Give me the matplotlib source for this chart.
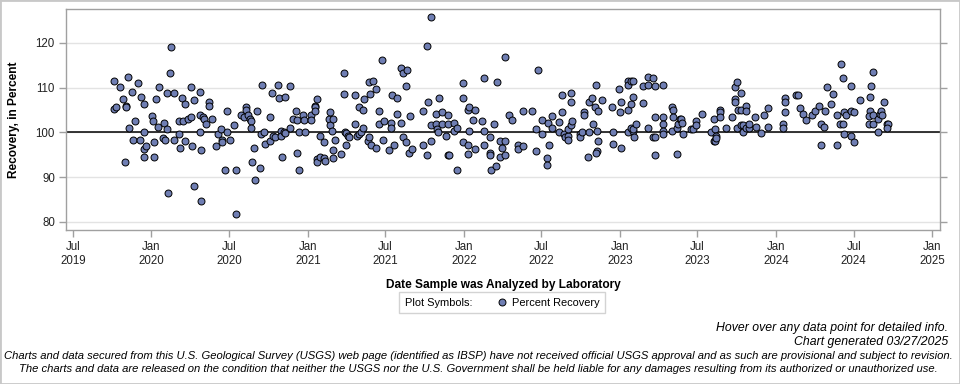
import pandas as pd
import matplotlib
matplotlib.use('Agg')
import matplotlib.pyplot as plt
import matplotlib.dates as mdates
from matplotlib.patches import Rectangle
from matplotlib.lines import Line2D
from matplotlib.offsetbox import HPacker

plt.rcParams['font.family'] = ['Liberation Sans', 'DejaVu Sans']

# sample dates as decimal years, recovery in percent
d2019 = [2019.758, 2019.762, 2019.773, 2019.796, 2019.816, 2019.828, 2019.835, 2019.835,
         2019.852, 2019.854, 2019.873, 2019.884, 2019.892, 2019.912, 2019.924, 2019.931,
         2019.950, 2019.950, 2019.950, 2019.950, 2019.965]
r2019 = [105.3, 111.4, 105.7, 110.1, 107.4, 93.3, 106.0, 105.6,
         112.3, 101.1, 109.0, 98.3, 102.5, 111.0, 98.4, 108.0,
         106.3, 100.0, 96.2, 94.6, 96.9]

d2020 = [2020.001, 2020.008, 2020.019, 2020.019, 2020.027, 2020.040, 2020.046, 2020.076,
         2020.078, 2020.085, 2020.097, 2020.097, 2020.104, 2020.117, 2020.123, 2020.142,
         2020.142, 2020.174, 2020.174, 2020.181, 2020.193, 2020.200, 2020.213, 2020.213,
         2020.232, 2020.251, 2020.251, 2020.257, 2020.270, 2020.270, 2020.309, 2020.309,
         2020.309, 2020.315, 2020.315, 2020.328, 2020.334, 2020.347, 2020.366, 2020.366,
         2020.385, 2020.411, 2020.424, 2020.443, 2020.449, 2020.449, 2020.469, 2020.481,
         2020.481, 2020.501, 2020.526, 2020.539, 2020.539, 2020.576, 2020.595, 2020.608,
         2020.608, 2020.620, 2020.633, 2020.635, 2020.635, 2020.641, 2020.654, 2020.661,
         2020.673, 2020.693, 2020.699, 2020.705, 2020.718, 2020.725, 2020.757, 2020.757,
         2020.770, 2020.776, 2020.789, 2020.808, 2020.814, 2020.827, 2020.827, 2020.833,
         2020.846, 2020.853, 2020.853, 2020.885, 2020.885, 2020.904, 2020.923, 2020.932,
         2020.932, 2020.942, 2020.942, 2020.968, 2020.979, 2020.981]
r2020 = [103.7, 102.5, 97.8, 94.6, 107.4, 101.3, 110.1, 98.7,
         102.2, 98.3, 108.8, 100.7, 86.4, 113.2, 119.2, 108.8,
         98.3, 102.5, 99.6, 96.6, 107.8, 102.5, 106.3, 98.0,
         103.1, 110.1, 103.4, 96.9, 107.2, 88.0, 109.0, 103.8,
         100.0, 96.0, 84.6, 103.4, 102.9, 102.0, 106.9, 106.0,
         103.1, 96.9, 99.6, 100.7, 98.4, 97.8, 91.5, 104.7,
         100.2, 98.3, 101.6, 91.5, 81.7, 104.0, 103.4, 105.6,
         105.1, 104.0, 102.9, 102.5, 100.9, 93.5, 96.5, 89.3,
         104.7, 92.0, 99.6, 110.7, 100.0, 97.5, 103.4, 98.0,
         108.9, 99.3, 98.9, 110.5, 107.8, 100.4, 99.1, 94.6,
         100.2, 99.8, 108.0, 110.3, 100.9, 103.1, 104.9, 95.3,
         102.7, 100.2, 91.7, 103.8, 102.7, 100.0]

d2021 = [2021.019, 2021.019, 2021.045, 2021.045, 2021.045, 2021.058, 2021.058, 2021.058,
         2021.077, 2021.077, 2021.102, 2021.102, 2021.109, 2021.134, 2021.141, 2021.141,
         2021.152, 2021.160, 2021.160, 2021.160, 2021.173, 2021.211, 2021.231, 2021.231,
         2021.237, 2021.243, 2021.243, 2021.256, 2021.262, 2021.301, 2021.301, 2021.314,
         2021.327, 2021.327, 2021.339, 2021.352, 2021.352, 2021.359, 2021.384, 2021.390,
         2021.390, 2021.397, 2021.403, 2021.416, 2021.435, 2021.435, 2021.455, 2021.455,
         2021.474, 2021.480, 2021.487, 2021.519, 2021.531, 2021.531, 2021.538, 2021.551,
         2021.570, 2021.570, 2021.595, 2021.595, 2021.608, 2021.634, 2021.608, 2021.627,
         2021.627, 2021.647, 2021.653, 2021.666, 2021.736, 2021.736, 2021.762, 2021.768,
         2021.762, 2021.787, 2021.787, 2021.787, 2021.819, 2021.819, 2021.826, 2021.832,
         2021.839, 2021.858, 2021.858, 2021.883, 2021.896, 2021.896, 2021.896, 2021.903,
         2021.935, 2021.935, 2021.954, 2021.954, 2021.992, 2021.992, 2021.992]
r2021 = [104.0, 102.7, 106.0, 105.6, 104.9, 107.4, 94.0, 93.3,
         99.1, 94.6, 97.8, 94.2, 93.7, 103.1, 104.5, 101.6,
         100.4, 103.0, 96.0, 94.4, 98.4, 95.1, 113.4, 108.7,
         100.2, 99.8, 97.1, 99.1, 98.9, 108.3, 102.0, 99.3,
         99.6, 105.6, 100.0, 105.1, 101.1, 107.4, 98.0, 98.9,
         111.2, 108.7, 97.1, 111.4, 109.8, 96.6, 104.7, 101.8,
         116.1, 98.4, 102.5, 96.0, 102.2, 101.1, 108.3, 97.1,
         107.8, 104.2, 102.2, 114.3, 113.4, 113.9, 98.9, 110.3,
         97.8, 95.3, 103.6, 96.2, 104.9, 97.3, 119.4, 106.7,
         94.9, 125.7, 101.6, 98.0, 104.2, 102.0, 100.7, 100.2,
         107.6, 104.5, 101.8, 99.3, 103.8, 102.0, 94.9, 94.9,
         102.2, 100.4, 101.1, 91.5, 111.0, 107.8, 97.8]

d2022 = [2022.024, 2022.031, 2022.024, 2022.024, 2022.031, 2022.056, 2022.069, 2022.069,
         2022.114, 2022.127, 2022.127, 2022.127, 2022.165, 2022.165, 2022.165, 2022.172,
         2022.191, 2022.204, 2022.210, 2022.229, 2022.242, 2022.229, 2022.261, 2022.261,
         2022.261, 2022.287, 2022.306, 2022.344, 2022.344, 2022.376, 2022.376, 2022.434,
         2022.460, 2022.460, 2022.472, 2022.498, 2022.498, 2022.530, 2022.530, 2022.536,
         2022.543, 2022.562, 2022.562, 2022.607, 2022.607, 2022.626, 2022.626, 2022.639,
         2022.645, 2022.665, 2022.665, 2022.665, 2022.684, 2022.684, 2022.684, 2022.690,
         2022.741, 2022.741, 2022.754, 2022.767, 2022.767, 2022.793, 2022.799, 2022.799,
         2022.818, 2022.825, 2022.837, 2022.844, 2022.850, 2022.850, 2022.844, 2022.857,
         2022.857, 2022.882, 2022.946, 2022.953, 2022.953, 2022.991, 2022.997]
r2022 = [105.1, 105.6, 97.3, 95.1, 100.4, 102.7, 105.1, 96.2,
         102.5, 112.1, 100.4, 97.3, 98.9, 95.3, 94.9, 91.5,
         101.8, 92.6, 111.2, 98.0, 96.6, 94.6, 116.8, 98.2,
         94.9, 104.0, 102.7, 97.1, 96.2, 96.9, 104.7, 104.7,
         100.7, 95.8, 113.9, 102.7, 99.6, 94.4, 92.8, 102.2,
         97.1, 103.6, 101.1, 102.4, 100.2, 108.3, 104.5, 99.6,
         98.9, 99.1, 98.4, 100.7, 101.6, 108.9, 106.7, 102.5,
         99.6, 98.9, 100.0, 104.5, 103.8, 94.6, 106.7, 100.0,
         107.8, 102.0, 105.6, 110.7, 100.4, 95.8, 95.3, 104.7,
         98.0, 107.2, 105.8, 100.0, 97.5, 109.8, 104.5]

d2023 = [2023.010, 2023.010, 2023.055, 2023.055, 2023.068, 2023.081, 2023.055, 2023.068,
         2023.055, 2023.068, 2023.081, 2023.087, 2023.087, 2023.093, 2023.106, 2023.151,
         2023.183, 2023.183, 2023.215, 2023.222, 2023.273, 2023.151, 2023.183, 2023.222,
         2023.215, 2023.228, 2023.222, 2023.273, 2023.273, 2023.273, 2023.279, 2023.337,
         2023.343, 2023.337, 2023.343, 2023.369, 2023.369, 2023.375, 2023.388, 2023.394,
         2023.401, 2023.407, 2023.458, 2023.471, 2023.490, 2023.490, 2023.529, 2023.586,
         2023.606, 2023.612, 2023.606, 2023.612, 2023.618, 2023.618, 2023.644, 2023.644,
         2023.644, 2023.682, 2023.721, 2023.740, 2023.753, 2023.740, 2023.740, 2023.753,
         2023.759, 2023.778, 2023.778, 2023.778, 2023.791, 2023.791, 2023.810, 2023.810,
         2023.810, 2023.830, 2023.830, 2023.868, 2023.874, 2023.906, 2023.926, 2023.951,
         2023.951]
r2023 = [96.6, 106.9, 111.6, 110.5, 111.4, 111.6, 105.1, 106.3,
         100.0, 100.9, 100.4, 100.7, 108.0, 98.9, 101.8, 110.3,
         112.3, 110.5, 112.1, 110.3, 110.5, 106.5, 101.1, 103.4,
         98.9, 98.9, 94.9, 103.4, 101.8, 100.4, 99.6, 105.8,
         105.1, 100.4, 103.4, 95.1, 101.1, 102.0, 103.1, 103.1,
         102.2, 99.6, 100.7, 100.7, 102.5, 101.6, 104.2, 100.0,
         103.1, 100.7, 98.0, 98.2, 99.1, 98.7, 105.1, 104.5,
         103.4, 100.9, 103.4, 110.1, 111.2, 107.4, 106.7, 101.1,
         105.1, 108.9, 105.1, 101.6, 101.6, 100.0, 101.1, 106.0,
         104.7, 100.9, 101.8, 103.4, 101.3, 99.8, 103.8, 105.4,
         101.3]

d2024 = [2024.047, 2024.047, 2024.060, 2024.060, 2024.060, 2024.131, 2024.143, 2024.156,
         2024.175, 2024.195, 2024.233, 2024.252, 2024.278, 2024.291, 2024.291, 2024.310,
         2024.316, 2024.329, 2024.355, 2024.367, 2024.393, 2024.393, 2024.419, 2024.412,
         2024.431, 2024.431, 2024.438, 2024.438, 2024.451, 2024.483, 2024.483, 2024.502,
         2024.483, 2024.502, 2024.540, 2024.604, 2024.611, 2024.622, 2024.604, 2024.594,
         2024.594, 2024.624, 2024.624, 2024.656, 2024.656, 2024.668, 2024.675, 2024.681,
         2024.694, 2024.713, 2024.720, 2024.713]
r2024 = [101.8, 101.1, 107.8, 106.7, 104.5, 108.3, 108.3, 105.4,
         104.2, 102.7, 103.8, 104.9, 106.0, 97.1, 101.8, 101.3,
         104.9, 110.1, 106.3, 108.7, 103.8, 97.3, 115.4, 101.8,
         102.0, 112.1, 99.6, 104.5, 103.8, 110.3, 104.7, 104.5,
         99.3, 97.8, 107.2, 108.0, 110.3, 113.6, 104.9, 103.6,
         101.8, 103.8, 101.8, 100.0, 103.1, 104.2, 104.7, 103.8,
         106.7, 102.0, 101.8, 101.1]

dec_years = d2019 + d2020 + d2021 + d2022 + d2023 + d2024
recovery = r2019 + r2020 + r2021 + r2022 + r2023 + r2024


def to_date(y):
    yr = int(y)
    return pd.Timestamp(yr, 1, 1) + pd.Timedelta(days=(y - yr) * 365.25)


dates = [to_date(y) for y in dec_years]

point_color = '#6F7EB3'
axis_gray = '#A0A0A0'

fig = plt.figure(figsize=(9.6, 3.84), dpi=100)
ax = fig.add_axes([66 / 960, 1 - 230 / 384, 874 / 960, 221 / 384])

ax.axhline(100, color='black', lw=1.1, zorder=2)
ax.scatter(dates, recovery, s=25, facecolor=point_color, edgecolor='black',
           linewidth=0.7, zorder=3)

ax.set_ylim(78.2, 127.6)
ax.set_xlim(pd.Timestamp('2019-06-15'), pd.Timestamp('2025-01-19'))
ax.set_yticks([80, 90, 100, 110, 120])
ax.grid(axis='y', color='#E3E3E3', lw=1, zorder=0)
ax.set_axisbelow(True)

ax.xaxis.set_major_locator(mdates.MonthLocator(bymonth=[1, 7]))
ax.xaxis.set_major_formatter(mdates.DateFormatter('%b\n%Y'))

ax.yaxis.set_ticks_position('both')
ax.tick_params(axis='both', direction='out', length=5, width=1, color=axis_gray,
               labelsize=8.3, labelcolor='#222222', pad=3)
ax.tick_params(axis='y', labelright=False)
for s in ax.spines.values():
    s.set_color(axis_gray)
    s.set_linewidth(1)

ax.set_ylabel('Recovery, in Percent', fontsize=8.6, fontweight='bold', labelpad=11)
ax.set_xlabel('Date Sample was Analyzed by Laboratory', fontsize=8.6,
              fontweight='bold', labelpad=9)

# legend: title and entry on one row
h = Line2D([], [], linestyle='none', marker='o', markersize=5,
           markerfacecolor=point_color, markeredgecolor='black', markeredgewidth=0.7)
leg = fig.legend(handles=[h], labels=['Percent Recovery'], title='Plot Symbols:',
                 loc='center', bbox_to_anchor=(0.523, 0.211), fontsize=7.9,
                 title_fontsize=7.9, fancybox=False, edgecolor='#C8C8C8',
                 handlelength=0.9, handletextpad=0.4, borderpad=0.5)
leg.get_frame().set_linewidth(1)
leg._legend_box._children = [HPacker(pad=0, sep=18, align='center',
                                     children=[leg._legend_title_box,
                                               leg._legend_handle_box])]

fig.text(0.988, 1 - 328 / 384, 'Hover over any data point for detailed info.',
         ha='right', va='center', fontsize=8.8, style='italic')
fig.text(0.988, 1 - 342 / 384, 'Chart generated 03/27/2025',
         ha='right', va='center', fontsize=8.8, style='italic')
fig.text(0.4985, 1 - 356 / 384,
         'Charts and data secured from this U.S. Geological Survey (USGS) web page (identified as IBSP) '
         'have not received official USGS approval and as such are provisional and subject to revision.',
         ha='center', va='center', fontsize=8.1, style='italic')
fig.text(0.4985, 1 - 369.5 / 384,
         'The charts and data are released on the condition that neither the USGS nor the U.S. Government '
         'shall be held liable for any damages resulting from its authorized or unauthorized use.',
         ha='center', va='center', fontsize=8.1, style='italic')

fig.patches.append(Rectangle((0, 0), 1, 1, transform=fig.transFigure, fill=False,
                             edgecolor='#C8C8C8', linewidth=2))

fig.savefig('out.png', dpi=100)
